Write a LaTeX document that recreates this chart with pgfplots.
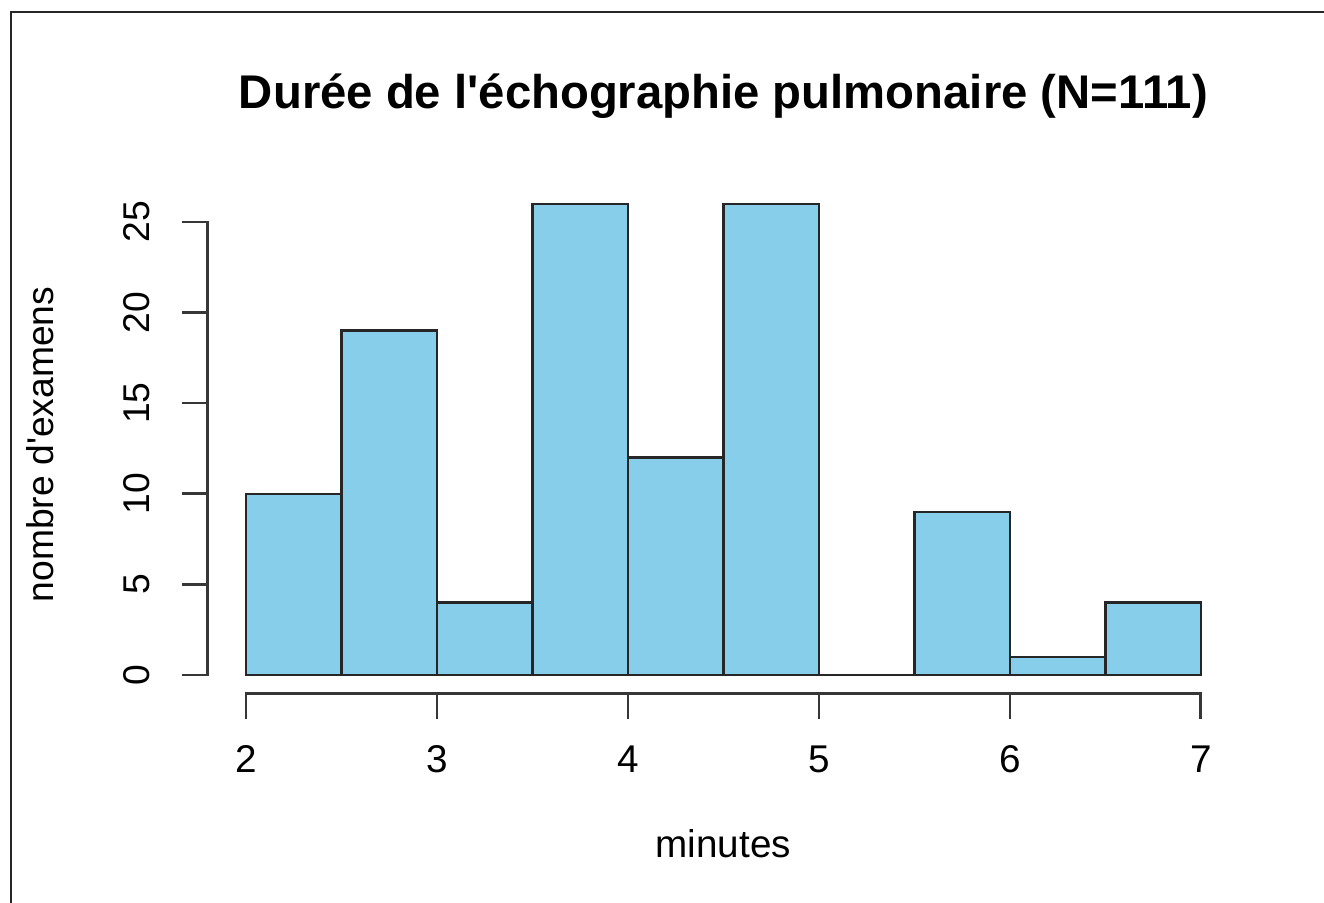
\documentclass[border=0pt]{standalone}
\usepackage{fontspec}
\setmainfont{Liberation Sans}
\usepackage{pgfplots}
\pgfplotsset{compat=1.18}
\definecolor{skyblue}{RGB}{135,206,235}
\definecolor{axgray}{RGB}{55,55,55}
\begin{document}
\begin{tikzpicture}
\useasboundingbox (0,0) rectangle (13.24cm,9.03cm);
\draw[line width=0.8pt, black!85] (0.11cm,0) -- (0.11cm,8.91cm) -- (13.24cm,8.91cm);
\begin{axis}[
  at={(2.078cm,2.092cm)}, anchor=south west,
  scale only axis, width=10.312cm, height=5.088cm,
  xmin=1.8, xmax=7.2, ymin=-1.04, ymax=27.04,
  axis x line*=bottom, axis y line*=left,
  axis line style={draw=none},
  clip=false,
  xtick={2,3,4,5,6,7}, ytick={0,5,10,15,20,25},
  tick align=outside, major tick length=0.24cm,
  tick style={line width=0.75pt, axgray, line cap=rect},
  font=\fontsize{11}{13}\selectfont,
  /pgf/number format/assume math mode=true,
  xticklabel style={anchor=base, inner sep=0pt, outer sep=0pt, yshift=-0.542cm},
  yticklabel style={xshift=-0.338cm, rotate=90, anchor=base, inner sep=0pt, outer sep=0pt, font=\fontsize{10.6}{13}\selectfont},
  title={Durée de l\textquotesingle échographie pulmonaire (N=111)},
  title style={at={(rel axis cs:0.5,1.1474)}, anchor=base, yshift=-0.2cm, font=\fontsize{13.45}{15}\selectfont\bfseries},
  xlabel={minutes},
  xlabel style={at={(rel axis cs:0.5,-0.3208)}, anchor=base},
  ylabel={nombre d\textquotesingle examens},
  ylabel style={at={(rel axis cs:-0.1501,0.49)}, anchor=base, font=\fontsize{10.6}{13}\selectfont},
]
\addplot[ybar interval, fill=skyblue, draw=black!85, line width=0.7pt]
  coordinates {(2,10) (2.5,19) (3,4) (3.5,26) (4,12) (4.5,26) (5,0) (5.5,9) (6,1) (6.5,4) (7,4)};
\draw[line width=0.75pt, axgray, line cap=rect] (axis cs:2,-1.04) -- (axis cs:7,-1.04);
\draw[line width=0.75pt, axgray, line cap=rect] (axis cs:1.8,0) -- (axis cs:1.8,25);
\end{axis}
\end{tikzpicture}
\end{document}
